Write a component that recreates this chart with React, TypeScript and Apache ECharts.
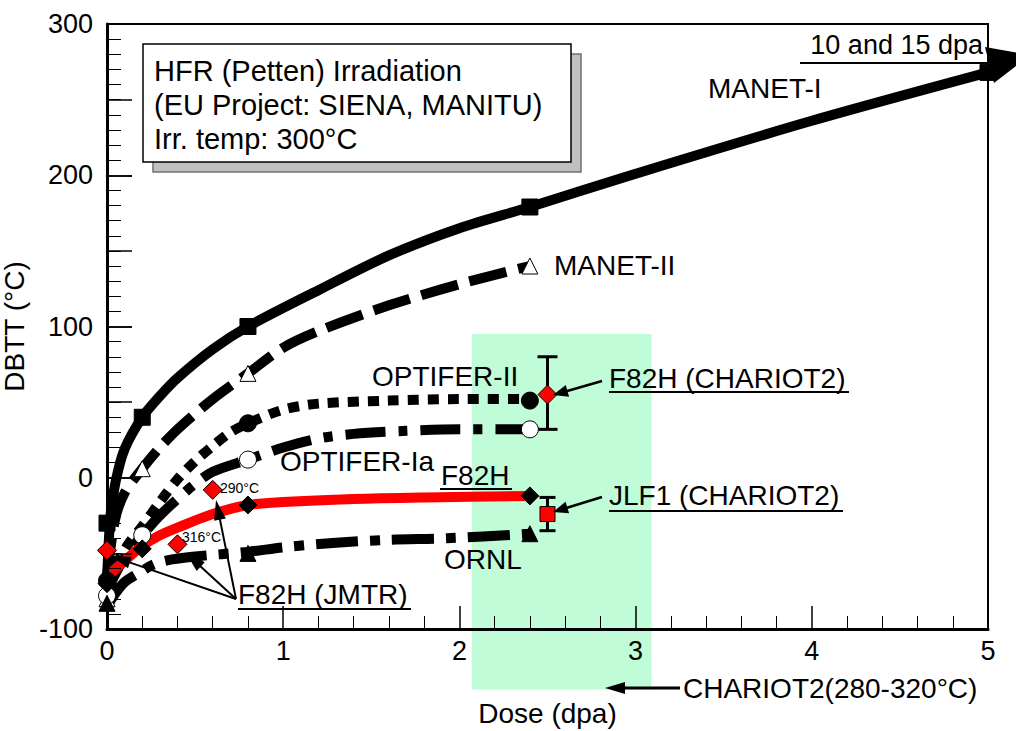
import React, { useEffect, useRef } from "react";
import * as echarts from "echarts";

const FONT = "'Liberation Sans', Arial, Helvetica, sans-serif";

// ---- axes ----
const xRange = [0, 5];
const yRange = [-100, 300];

// ---- fitted trend curves (dose dpa, DBTT °C) ----
const manet1Curve = [[0, -68], [0.02, -25], [0.05, -2], [0.1, 19], [0.2, 40], [0.3, 54], [0.4, 66], [0.6, 85], [0.8, 100], [1.2, 124], [1.6, 147], [2.0, 165], [2.4, 179], [3.0, 201], [4.0, 236], [5.0, 268]];
const manet2Curve = [[0, -65], [0.045, -28], [0.1, -10], [0.2, 6], [0.3, 20], [0.4, 32], [0.6, 52], [0.8, 69], [1.0, 86], [1.2, 97], [1.6, 114], [2.0, 128], [2.4, 140]];
const optifer2Curve = [[0, -70], [0.05, -58], [0.12, -44], [0.2, -32], [0.3, -16], [0.4, -1], [0.5, 11], [0.6, 21], [0.7, 30], [0.8, 36], [1.0, 45], [1.2, 49], [1.6, 51], [2.0, 52], [2.4, 52]];
const optifer1aCurve = [[0, -75], [0.05, -63], [0.1, -53], [0.2, -38], [0.3, -25], [0.4, -14], [0.5, -4], [0.6, 4], [0.8, 12], [1.0, 20], [1.2, 26], [1.4, 29], [1.7, 31], [2.0, 32], [2.4, 32]];
const f82hCurve = [[0, -66], [0.05, -60], [0.1, -55], [0.2, -45], [0.3, -38], [0.4, -33], [0.6, -24], [0.8, -18], [1.0, -16], [1.4, -14], [1.8, -13], [2.4, -12]];
const ornlCurve = [[0, -85], [0.05, -76], [0.1, -69], [0.18, -63], [0.27, -57], [0.37, -54], [0.5, -52], [0.8, -49], [1.0, -46], [1.3, -43], [1.6, -41], [1.93, -40], [2.4, -37]];

// ---- measured points ----
const manet1Pts = [[0, -30], [0.2, 40], [0.8, 100], [2.4, 179], [5, 268]];
const manet2Pts = [[0, -80], [0.2, 6], [0.8, 69], [2.4, 140]];
const optifer2Pts = [[0, -68], [0.8, 36], [2.4, 51]];
const optifer1aPts = [[0, -78], [0.2, -38], [0.8, 12], [2.4, 32]];
const f82hPts = [[0, -70], [0.2, -47], [0.8, -18], [2.4, -12]];
const ornlPts = [[0, -83], [0.8, -50], [2.4, -37]];
const f82hJmtrPts = [[0, -48], [0.4, -44], [0.6, -8]];
const f82hChariotPt = [[2.5, 55]];
const jlf1ChariotPt = [[2.5, -24]];
// [dose, low, high]
const errorBars = [[2.5, 32, 80], [2.5, -35, -13]];
// CHARIOT2 dose window [from, to, top, bottom]
const chariotBand = [[2.07, 3.09, 95, -140]];

const arrow = (x1: number, y1: number, x2: number, y2: number, w = 2, head = 18, hw = 6) => {
  const dx = x2 - x1, dy = y2 - y1;
  const len = Math.sqrt(dx * dx + dy * dy);
  const ux = dx / len, uy = dy / len;
  const bx = x2 - ux * head, by = y2 - uy * head;
  return [
    { type: "line", z: 100, shape: { x1, y1, x2: bx + ux * 2, y2: by + uy * 2 }, style: { stroke: "#000", lineWidth: w } },
    { type: "polygon", z: 100, shape: { points: [[x2, y2], [bx - uy * hw, by + ux * hw], [bx + uy * hw, by - ux * hw]] }, style: { fill: "#000" } },
  ];
};

const txt = (text: string, x: number, y: number, size = 28, align = "left") => ({
  type: "text",
  z: 100,
  style: { text, x, y, fill: "#000", font: `${size}px ${FONT}`, align, verticalAlign: "middle", textAlign: align, textVerticalAlign: "middle" },
});
const uline = (x1: number, x2: number, y: number) => ({
  type: "line", z: 100, shape: { x1, y1: y, x2, y2: y }, style: { stroke: "#000", lineWidth: 2 },
});

const lineSeries = (name: string, data: number[][], color: string, type: any) => ({
  type: "line",
  name,
  data,
  smooth: 0.3,
  symbol: "none",
  showSymbol: false,
  silent: true,
  z: 2,
  lineStyle: { color, width: 10, type, cap: "butt", join: "round" },
});

const markerSeries = (name: string, data: number[][], symbol: string, size: number, fill: string, border = "#000", bw = 1, z = 6) => ({
  type: "scatter",
  name,
  data,
  symbol,
  symbolSize: size,
  clip: false,
  silent: true,
  z,
  itemStyle: { color: fill, borderColor: border, borderWidth: bw, opacity: 1 },
});

export default function App() {
  const ref = useRef<HTMLDivElement>(null);
  useEffect(() => {
    const chart = echarts.init(ref.current!, null, { renderer: "svg" });
    const option: any = {
      animation: false,
      backgroundColor: "#fff",
      grid: {
        left: 107, right: 28, top: 24, bottom: 102,
        containLabel: false, outerBoundsMode: "none",
        show: true, borderColor: "#000", borderWidth: 2, backgroundColor: "transparent",
      },
      xAxis: {
        type: "value",
        min: xRange[0],
        max: xRange[1],
        interval: 1,
        z: 5,
        name: "Dose (dpa)",
        nameLocation: "middle",
        nameGap: 70,
        nameTextStyle: { fontSize: 28, fontFamily: FONT, color: "#000" },
        axisLine: { show: true, onZero: false, lineStyle: { color: "#000", width: 3 } },
        axisTick: { show: true, inside: true, length: 23, lineStyle: { color: "#000", width: 1.5 } },
        minorTick: { show: true, splitNumber: 5, length: 13, lineStyle: { color: "#000", width: 1 } },
        axisLabel: { fontSize: 27, fontFamily: FONT, color: "#000", margin: 8 },
        splitLine: { show: false },
      },
      yAxis: [
        {
          type: "value",
          min: yRange[0],
          max: yRange[1],
          interval: 100,
          position: "left",
          z: 5,
          name: "DBTT (°C)",
          nameLocation: "middle",
          nameGap: 63,
          nameTextStyle: { fontSize: 28, fontFamily: FONT, color: "#000" },
          axisLine: { show: true, onZero: false, lineStyle: { color: "#000", width: 3 } },
          axisTick: { show: true, inside: true, length: 25, lineStyle: { color: "#000", width: 1.5 } },
          minorTick: { show: true, splitNumber: 10, length: 14, lineStyle: { color: "#000", width: 1 } },
          axisLabel: { fontSize: 27, fontFamily: FONT, color: "#000", margin: 14 },
          splitLine: { show: false },
        },
        {
          type: "value",
          min: yRange[0],
          max: yRange[1],
          interval: 50,
          position: "left",
          z: 5,
          axisLine: { show: false },
          axisTick: { show: true, inside: true, length: 25, lineStyle: { color: "#000", width: 1.5 } },
          axisLabel: { show: false },
          splitLine: { show: false },
        },
      ],
      series: [
        {
          type: "custom",
          name: "CHARIOT2 band",
          data: chariotBand,
          clip: false,
          silent: true,
          z: 1,
          encode: { x: [0, 1], y: [2, 3] },
          renderItem: (params: any, api: any) => {
            const p1 = api.coord([api.value(0), api.value(2)]);
            const p2 = api.coord([api.value(1), api.value(3)]);
            return {
              type: "rect",
              shape: { x: p1[0], y: p1[1], width: p2[0] - p1[0], height: p2[1] - p1[1] },
              style: { fill: "#c0fcd8" },
            };
          },
        },
        lineSeries("ORNL", ornlCurve, "#000", [42, 12, 10, 12]),
        lineSeries("OPTIFER-Ia", optifer1aCurve, "#000", [40, 13, 9, 13]),
        lineSeries("OPTIFER-II", optifer2Curve, "#000", [11, 9]),
        lineSeries("MANET-II", manet2Curve, "#000", [38, 12]),
        lineSeries("MANET-I", manet1Curve, "#000", "solid"),
        lineSeries("F82H", f82hCurve, "#ff0000", "solid"),
        markerSeries("MANET-I pts", manet1Pts, "rect", 16, "#000"),
        markerSeries("MANET-II pts", manet2Pts, "triangle", 16, "#fff"),
        markerSeries("OPTIFER-II pts", optifer2Pts, "circle", 17, "#000"),
        markerSeries("OPTIFER-Ia pts", optifer1aPts, "circle", 17, "#fff"),
        markerSeries("ORNL pts", ornlPts, "triangle", 16, "#000"),
        markerSeries("F82H pts", f82hPts, "diamond", 18, "#000"),
        markerSeries("F82H JMTR", f82hJmtrPts, "diamond", 19, "#ff0000", "#000", 1, 7),
        {
          type: "custom",
          name: "error bars",
          data: errorBars,
          clip: false,
          silent: true,
          z: 6,
          encode: { x: 0, y: [1, 2] },
          renderItem: (params: any, api: any) => {
            const lo = api.coord([api.value(0), api.value(1)]);
            const hi = api.coord([api.value(0), api.value(2)]);
            const hw = params.dataIndex === 0 ? 10 : 8;
            const st = { stroke: "#000", lineWidth: 3 };
            return {
              type: "group",
              children: [
                { type: "line", shape: { x1: lo[0], y1: lo[1], x2: hi[0], y2: hi[1] }, style: st },
                { type: "line", shape: { x1: lo[0] - hw, y1: lo[1], x2: lo[0] + hw, y2: lo[1] }, style: st },
                { type: "line", shape: { x1: hi[0] - hw, y1: hi[1], x2: hi[0] + hw, y2: hi[1] }, style: st },
              ],
            };
          },
        },
        markerSeries("F82H CHARIOT2", f82hChariotPt, "diamond", 19, "#ff0000", "#000", 1, 8),
        markerSeries("JLF1 CHARIOT2", jlf1ChariotPt, "rect", 15, "#ff0000", "#000", 1, 8),
      ],
      graphic: {
        elements: [
          // info box with shadow
          { type: "rect", z: 90, shape: { x: 153, y: 54, width: 428, height: 118 }, style: { fill: "#c0c0c0", stroke: "#707070", lineWidth: 1.5 } },
          { type: "rect", z: 91, shape: { x: 143, y: 44, width: 428, height: 118 }, style: { fill: "#fff", stroke: "#000", lineWidth: 1.5 } },
          { ...txt("HFR (Petten) Irradiation", 154, 71, 29), z: 92 },
          { ...txt("(EU Project: SIENA, MANITU)", 154, 105, 29), z: 92 },
          { ...txt("Irr. temp: 300°C", 154, 139, 29), z: 92 },
          // MANET-I extension arrow
          { type: "line", z: 100, shape: { x1: 978, y1: 76, x2: 993, y2: 68 }, style: { stroke: "#000", lineWidth: 10 } },
          { type: "polygon", z: 100, shape: { points: [[985, 47], [1030, 55], [994, 83]] }, style: { fill: "#000" } },
          txt("10 and 15 dpa", 983, 45, 27, "right"),
          uline(800, 988, 63),
          txt("MANET-I", 708, 88),
          txt("MANET-II", 554, 265),
          txt("OPTIFER-II", 372, 376),
          txt("OPTIFER-Ia", 280, 461),
          txt("F82H", 441, 475),
          uline(440, 512, 489),
          txt("ORNL", 444, 559),
          txt("F82H (JMTR)", 238, 594),
          uline(238, 411, 609),
          txt("290°C", 220, 488, 14),
          txt("316°C", 182, 537, 14),
          txt("F82H (CHARIOT2)", 609, 378),
          uline(609, 849, 392),
          txt("JLF1 (CHARIOT2)", 609, 495),
          uline(609, 843, 511),
          txt("CHARIOT2(280-320°C)", 683, 688),
          ...arrow(602, 381, 553, 395, 2.5, 15, 6),
          ...arrow(602, 497, 553, 512, 2.5, 15, 6),
          ...arrow(236, 599, 111, 556, 2, 20, 6),
          ...arrow(236, 599, 186, 553, 2, 20, 6),
          ...arrow(236, 599, 216, 500, 2, 20, 6),
          ...arrow(680, 688, 605, 688, 3, 20, 6),
        ],
      },
    };
    chart.setOption(option);
    return () => chart.dispose();
  }, []);
  return <div ref={ref} style={{ position: "fixed", left: 0, top: 0, width: 1016, height: 731, background: "#fff" }} />;
}
